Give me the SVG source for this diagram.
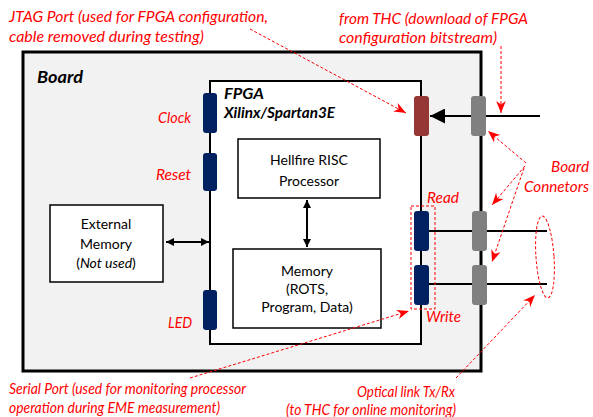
<svg xmlns="http://www.w3.org/2000/svg" width="593" height="417" viewBox="0 0 593 417">
<style>
.lbl{font-family:Lato,"Liberation Sans",sans-serif;font-size:15px;font-style:italic;fill:#ff0000}
.txt{font-family:Lato,"Liberation Sans",sans-serif;font-size:14px;fill:#000}
.ttl{font-family:Lato,"Liberation Sans",sans-serif;font-weight:bold;font-style:italic;fill:#000}
.box{fill:#fff;stroke:#000;stroke-width:1.5}
.pin{fill:#002060}
.con{fill:#808080}
.dash{fill:none;stroke:#ff0000;stroke-width:1;stroke-dasharray:3,2}
.blk{stroke:#000;stroke-width:2;fill:none}
</style>
<defs>
<marker id="ah" viewBox="0 0 10 10" refX="10" refY="5" markerWidth="8" markerHeight="8" orient="auto-start-reverse" markerUnits="userSpaceOnUse">
<path d="M0,0 L10,5 L0,10 z" fill="#000"/>
</marker>
<marker id="ahB" viewBox="0 0 10 10" refX="10" refY="5" markerWidth="15" markerHeight="15" orient="auto" markerUnits="userSpaceOnUse">
<path d="M0,0 L10,5 L0,10 z" fill="#000"/>
</marker>
<marker id="ra" viewBox="0 0 10 10" refX="10" refY="5" markerWidth="12" markerHeight="12" orient="auto" markerUnits="userSpaceOnUse">
<path d="M0,1 L10,5 L0,9 L3,5 z" fill="#ff0000"/>
</marker>
</defs>

<g id="board">
<rect x="23" y="52" width="458" height="319" fill="#f2f2f2" stroke="#000" stroke-width="3"/>
<text class="ttl" x="37" y="83" font-size="17" textLength="46" lengthAdjust="spacingAndGlyphs">Board</text>
</g>

<g id="fpga">
<rect x="210" y="81" width="211" height="263" fill="#fff" stroke="#000" stroke-width="2"/>
<text class="ttl" x="224" y="99" font-size="15" textLength="40" lengthAdjust="spacingAndGlyphs">FPGA</text>
<text class="ttl" x="224" y="118" font-size="15" textLength="111" lengthAdjust="spacingAndGlyphs">Xilinx/Spartan3E</text>
</g>

<g id="processor">
<rect class="box" x="238" y="139" width="142" height="59"/>
<text class="txt" x="309" y="165" text-anchor="middle">Hellfire RISC</text>
<text class="txt" x="309" y="186" text-anchor="middle">Processor</text>
</g>

<g id="memory">
<rect class="box" x="233" y="249" width="148" height="79"/>
<text class="txt" x="307" y="276" text-anchor="middle">Memory</text>
<text class="txt" x="307" y="294" text-anchor="middle">(ROTS,</text>
<text class="txt" x="307" y="312" text-anchor="middle">Program, Data)</text>
</g>

<g id="external">
<rect class="box" x="50" y="205" width="113" height="77"/>
<text class="txt" x="106" y="229" text-anchor="middle">External</text>
<text class="txt" x="106" y="249" text-anchor="middle">Memory</text>
<text class="txt" x="106" y="268" text-anchor="middle">(<tspan font-style="italic">Not used</tspan>)</text>
</g>

<g id="connectors">
<line class="blk" x1="429" y1="231" x2="547" y2="231"/>
<line class="blk" x1="429" y1="284" x2="547" y2="284"/>
<line class="blk" x1="486" y1="116" x2="540" y2="116"/>
<line class="blk" x1="471" y1="116" x2="430" y2="116" marker-end="url(#ahB)"/>
<line class="blk" x1="166" y1="242" x2="209" y2="242" stroke-width="1.5" marker-start="url(#ah)" marker-end="url(#ah)"/>
<line class="blk" x1="307" y1="200" x2="307" y2="247" stroke-width="1.5" marker-start="url(#ah)" marker-end="url(#ah)"/>
</g>

<g id="pins">
<rect class="pin" x="203" y="93" width="14" height="40" rx="3"/>
<rect class="pin" x="203" y="153" width="14" height="38" rx="3"/>
<rect class="pin" x="203" y="290" width="14" height="40" rx="3"/>
<rect x="414" y="96" width="15" height="40" rx="3" fill="#953735"/>
<rect class="pin" x="414" y="211" width="15" height="40" rx="3"/>
<rect class="pin" x="414" y="265" width="15" height="40" rx="3"/>
<rect class="con" x="471" y="96" width="15" height="40" rx="3"/>
<rect class="con" x="472" y="211" width="15" height="40" rx="3"/>
<rect class="con" x="472" y="265" width="15" height="40" rx="3"/>
</g>

<g id="labels">
<text class="lbl" x="158" y="123" textLength="33" lengthAdjust="spacingAndGlyphs">Clock</text>
<text class="lbl" x="156" y="180" textLength="35" lengthAdjust="spacingAndGlyphs">Reset</text>
<text class="lbl" x="168" y="328" textLength="24" lengthAdjust="spacingAndGlyphs">LED</text>
<text class="lbl" x="427" y="203" textLength="32" lengthAdjust="spacingAndGlyphs">Read</text>
<text class="lbl" x="426" y="322" textLength="35" lengthAdjust="spacingAndGlyphs">Write</text>
<text class="lbl" x="9" y="22" textLength="259" lengthAdjust="spacingAndGlyphs">JTAG Port (used for FPGA  configuration,</text>
<text class="lbl" x="9" y="42" textLength="195" lengthAdjust="spacingAndGlyphs">cable removed during testing)</text>
<text class="lbl" x="339" y="24" textLength="189" lengthAdjust="spacingAndGlyphs">from THC (download of FPGA</text>
<text class="lbl" x="339" y="43" textLength="158" lengthAdjust="spacingAndGlyphs">configuration bitstream)</text>
<text class="lbl" x="551" y="172" textLength="38" lengthAdjust="spacingAndGlyphs">Board</text>
<text class="lbl" x="524" y="192" textLength="65" lengthAdjust="spacingAndGlyphs">Connetors</text>
<text class="lbl" x="9" y="394" textLength="237" lengthAdjust="spacingAndGlyphs">Serial Port (used for monitoring processor</text>
<text class="lbl" x="9" y="413" textLength="211" lengthAdjust="spacingAndGlyphs">operation during EME measurement)</text>
<text class="lbl" x="357" y="397" textLength="98" lengthAdjust="spacingAndGlyphs">Optical link Tx/Rx</text>
<text class="lbl" x="286" y="415" textLength="170" lengthAdjust="spacingAndGlyphs">(to THC for online monitoring)</text>
</g>

<g id="annotations">
<rect class="dash" x="411" y="206" width="24" height="103"/>
<ellipse class="dash" cx="545" cy="257" rx="9" ry="41" transform="rotate(-4 545 257)"/>
<line class="dash" x1="250" y1="29" x2="406" y2="113" marker-end="url(#ra)"/>
<line class="dash" x1="501" y1="46" x2="501" y2="113" marker-end="url(#ra)"/>
<line class="dash" x1="526" y1="163" x2="488" y2="131" marker-end="url(#ra)"/>
<line class="dash" x1="525" y1="166" x2="492" y2="205" marker-end="url(#ra)"/>
<line class="dash" x1="524" y1="168" x2="492" y2="262" marker-end="url(#ra)"/>
<line class="dash" x1="190" y1="378" x2="409" y2="311" marker-end="url(#ra)"/>
<line class="dash" x1="456" y1="378" x2="535" y2="295" marker-end="url(#ra)"/>
</g>
</svg>
